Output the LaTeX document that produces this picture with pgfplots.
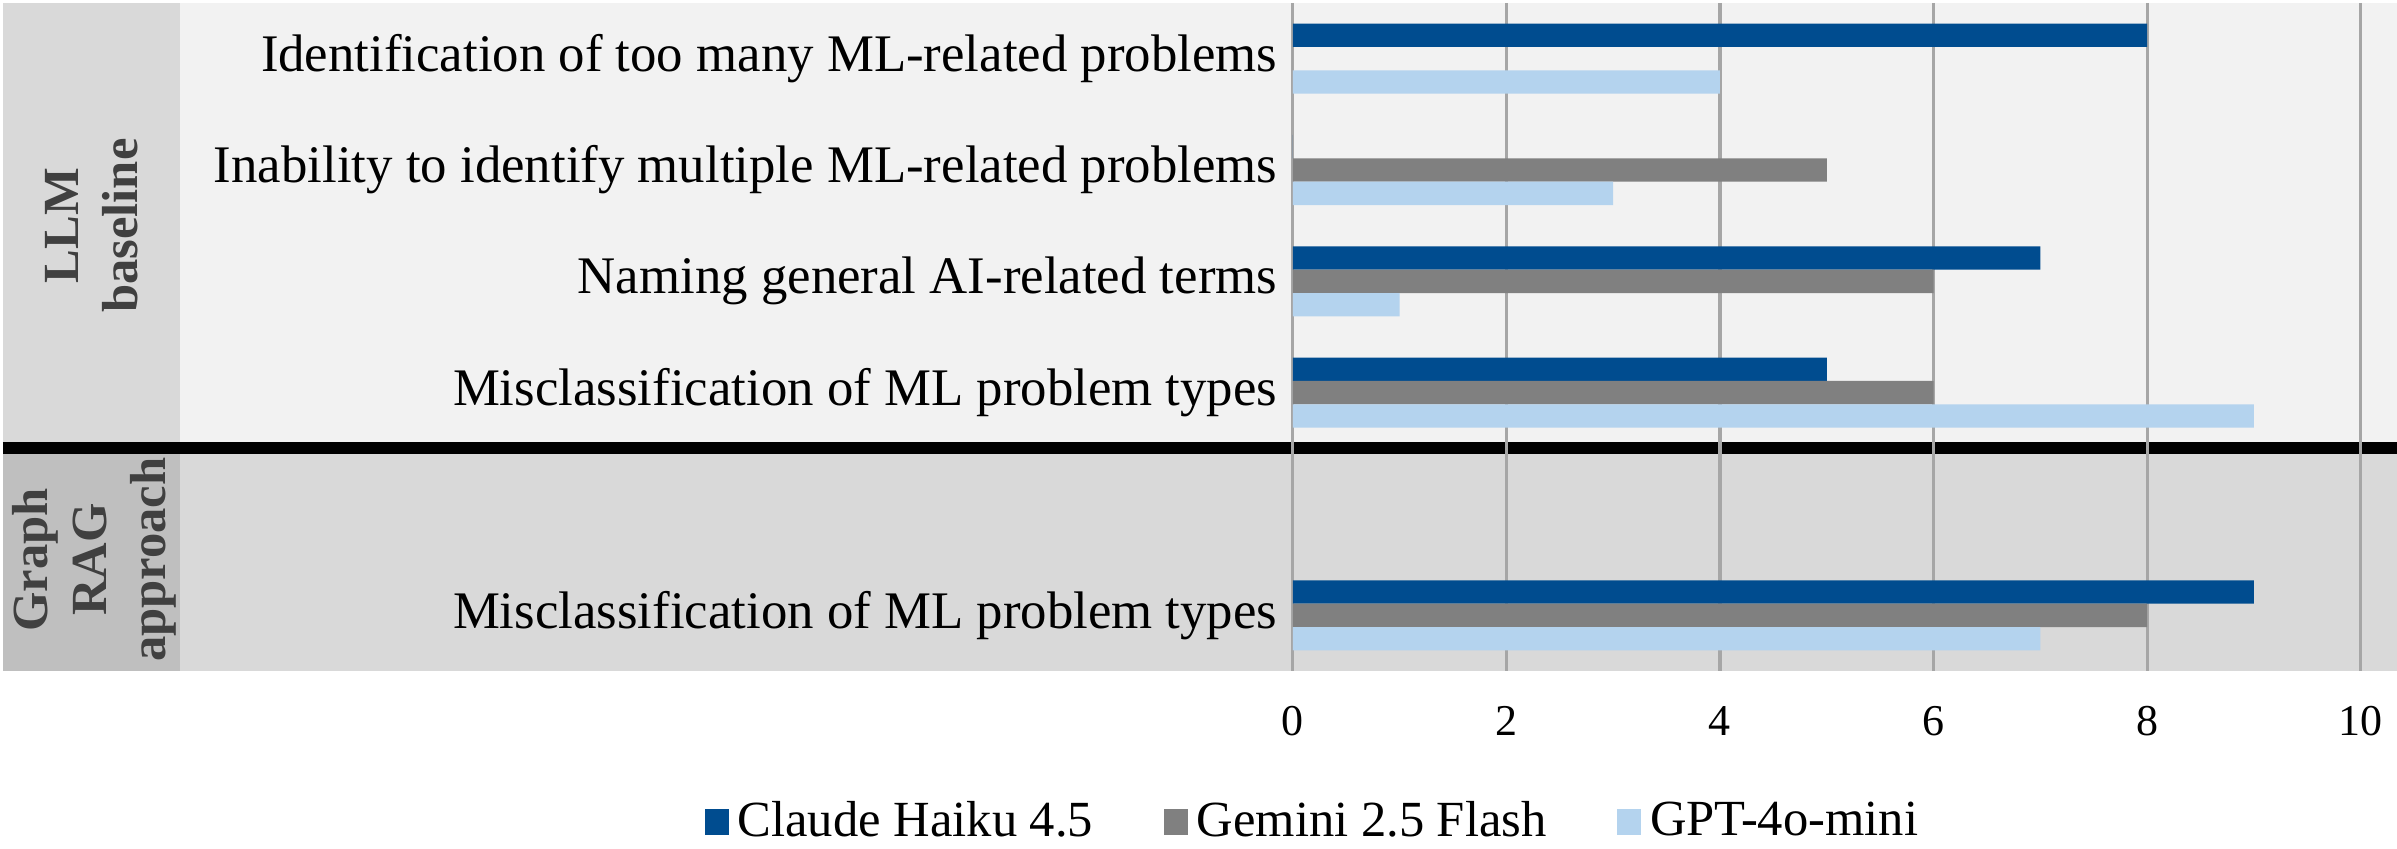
\documentclass[border=0pt]{standalone}
\usepackage{fontspec}
\setmainfont{Liberation Serif}
\usepackage{pgfplots}
\pgfplotsset{compat=1.18}

\definecolor{claude}{HTML}{004C8F}
\definecolor{gemini}{HTML}{808080}
\definecolor{gpt}{HTML}{B4D3EE}
\definecolor{bglight}{HTML}{F2F2F2}
\definecolor{bgmid}{HTML}{D9D9D9}
\definecolor{bgdark}{HTML}{BFBFBF}
\definecolor{gridgray}{HTML}{A6A6A6}
\definecolor{grouptext}{HTML}{404040}

\begin{document}
\begin{tikzpicture}
\begin{axis}[
    set layers=standard,
    scale only axis,
    width=250.9pt, height=151.8pt,
    xbar, bar width=0.21,
    xmin=0, xmax=10.34,
    ymin=-0.5, ymax=5.5,
    y dir=reverse,
    clip=false,
    axis line style={draw=none},
    major tick length=0pt,
    xtick={0,2,...,10},
    ytick={0,1,2,3,5},
    yticklabels={Identification of too many ML-related problems,
                 Inability to identify multiple ML-related problems,
                 Naming general AI-related terms,
                 Misclassification of ML problem types,
                 Misclassification of ML problem types},
    xmajorgrids,
    major grid style={gridgray, line width=0.7pt},
    /pgf/number format/assume math mode=true,
    xticklabel style={font=\fontsize{10}{12}\selectfont, anchor=center, yshift=-11.3pt},
    yticklabel style={font=\fontsize{12}{14}\selectfont, anchor=east},
    legend columns=3,
    legend style={at={(0.0208,-0.226)}, anchor=center, draw=none, fill=none,
                  font=\fontsize{11.5}{13}\selectfont,
                  /tikz/every even column/.append style={column sep=14pt}},
    legend image code/.code={\fill[#1] (0pt,-3pt) rectangle (5.5pt,3pt);},
]
    \begin{pgfonlayer}{axis background}
        \fill[bglight] (axis cs:-10.42,-0.5) rectangle (axis cs:10.34,3.5);
        \fill[bgmid] (axis cs:-12.08,-0.5) rectangle (axis cs:-10.42,3.5);
        \fill[bgmid] (axis cs:-10.42,3.5) rectangle (axis cs:10.34,5.5);
        \fill[bgdark] (axis cs:-12.08,3.5) rectangle (axis cs:-10.42,5.5);
        \draw[black, line width=2.7pt] (axis cs:-12.08,3.5) -- (axis cs:10.34,3.5);
    \end{pgfonlayer}

    % slot 4 is the empty separator row of the two groups
    \addplot[fill=claude, draw=none, bar shift=-0.21]
        coordinates {(8,0) (0,1) (7,2) (5,3) (9,5)};
    \addplot[fill=gemini, draw=none, bar shift=0]
        coordinates {(0,0) (5,1) (6,2) (6,3) (8,5)};
    \addplot[fill=gpt, draw=none, bar shift=0.21]
        coordinates {(4,0) (3,1) (1,2) (9,3) (7,5)};
    \legend{Claude Haiku 4.5, Gemini 2.5 Flash, GPT-4o-mini}

    \node[rotate=90, align=center, text=grouptext,
          font=\bfseries\fontsize{11.5}{13.4}\selectfont]
        at (axis cs:-11.25,1.5) {LLM\\baseline};
    \node[rotate=90, align=center, text=grouptext,
          font=\bfseries\fontsize{11.5}{13.4}\selectfont]
        at (axis cs:-11.22,4.5) {Graph\\RAG\\approach};

    \coordinate (bbA) at (axis cs:-12.107,-0.527);
    \coordinate (bbB) at (axis cs:10.34,7.09);
\end{axis}
\pgfresetboundingbox
\path[use as bounding box] (bbA) rectangle (bbB);
\end{tikzpicture}
\end{document}
